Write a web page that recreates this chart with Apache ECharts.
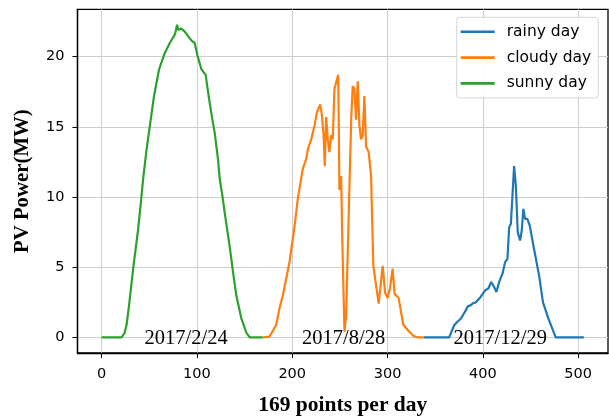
<!DOCTYPE html>
<html>
<head>
<meta charset="utf-8">
<script src="https://cdn.jsdelivr.net/npm/echarts@6/dist/echarts.min.js"></script>
<style>html,body{margin:0;padding:0;background:#fff;}#c{width:609px;height:418px;}</style>
</head>
<body>
<div id="c"></div>
<script>
const seriesNames = ['rainy day', 'cloudy day', 'sunny day'];
const xTicks = [0, 100, 200, 300, 400, 500];
const yTicks = [0, 5, 10, 15, 20];
const dateLabels = ['2017/2/24', '2017/8/28', '2017/12/29'];
const dateLabelX = [88.6, 253.9, 418.3];

const sunny = [[0,0],[21,0],[24,0.3],[26.2,0.9],[29,2.4],[33.1,4.9],[38.3,7.7],[41.9,10.1],[43.6,11.3],[47,13.3],[50.6,15.06],[55,17.2],[60.3,19.1],[66.3,20.26],[71.5,20.97],[75.7,21.44],[77,21.6],[79.2,22.27],[80.5,21.9],[82,21.8],[83.5,22.0],[85.5,22.1],[87,21.8],[89,21.7],[92.5,21.3],[95,21.1],[97.7,20.97],[100.5,20.1],[104.7,19.1],[107,18.9],[109.2,18.7],[111,17.8],[113.4,16.7],[116,15.6],[118.6,14.6],[122.1,12.7],[123.9,11.3],[126.7,10.1],[129.1,8.9],[134.3,6.5],[137.8,4.7],[141.3,3.0],[146.6,1.35],[151.8,0.35],[155.3,0],[169,0]];

const cloudy = [[169,0],[176,0.05],[180,0.5],[183.2,0.9],[186.7,2.1],[190.2,3.0],[197.2,5.4],[202.4,7.9],[205.9,9.9],[211.1,12.0],[214.6,12.7],[216.4,13.4],[219.9,14.1],[223.4,15.1],[225.8,16.0],[229.3,16.6],[231,15.9],[232.8,14.5],[234.2,12.2],[235.6,15.7],[237.3,14.1],[239,13.2],[240.8,14.4],[242.5,14.1],[244.3,17.7],[246,17.7],[248.2,18.7],[248.8,15.5],[249.5,10.5],[251.3,11.5],[252.5,7],[254.8,0.4],[256.5,1.5],[259,8],[260.5,12],[262,15.8],[263.5,17.9],[265.2,17.7],[267,15.5],[268.7,18.25],[270.5,15.1],[272.2,14.1],[273.9,14.4],[275.7,17.2],[277.5,13.6],[280.2,13.2],[282.7,11.5],[285.1,5.1],[288,3.7],[290.7,2.4],[292.5,2.5],[294.9,5.1],[297.4,3.2],[300.1,2.8],[302.6,3.5],[305.3,4.9],[307.4,3.1],[311.6,2.8],[316.5,0.9],[322.8,0.4],[327,0.12],[331.5,0],[338,0]];

const rainy = [[338,0],[364.7,0],[367,0.4],[370,0.87],[373,1.1],[377,1.35],[382.2,1.94],[384,2.2],[387.4,2.3],[390,2.45],[392.7,2.5],[397.9,2.9],[402.4,3.35],[405.9,3.5],[408.7,3.95],[411.8,3.6],[414.2,3.24],[417.1,3.95],[420.6,4.54],[423.4,5.37],[425.8,5.6],[427.6,7.85],[429.4,8.1],[432.8,12.2],[434.6,10.8],[436.6,7.5],[439.1,6.9],[440.8,7.6],[442.5,9.15],[444.3,8.44],[446.7,8.44],[449.2,7.96],[453.7,6.3],[459,4.4],[463.1,2.5],[468.7,1.35],[476.4,0],[506,0]];

const colors = ['#1f77b4', '#ff7f0e', '#2ca02c'];
const dataSets = [rainy, cloudy, sunny];

const chart = echarts.init(document.getElementById('c'), null, {renderer: 'canvas'});

const lineSeries = seriesNames.map((n, i) => ({
  name: n,
  type: 'line',
  data: dataSets[i],
  symbol: 'none',
  showSymbol: false,
  lineStyle: {color: colors[i], width: 2.2},
  itemStyle: {color: colors[i]},
  z: 2 + i
}));

const labelSeries = {
  name: 'dates',
  type: 'scatter',
  data: dateLabels.map((d, i) => ({name: d, value: [dateLabelX[i], -0.1]})),
  symbolSize: 1,
  itemStyle: {color: 'rgba(0,0,0,0)'},
  silent: true,
  z: 10,
  label: {
    show: true, position: 'inside', formatter: '{b}',
    fontFamily: 'Liberation Serif', fontSize: 20.5, color: '#000', opacity: 1
  }
};

const option = {
  animation: false,
  backgroundColor: '#fff',
  grid: {left: 77.5, right: 1, top: 9.3, bottom: 65, show: true, borderColor: '#000', borderWidth: 1.3, backgroundColor: 'transparent', outerBoundsMode: 'none', containLabel: false},
  legend: {
    data: seriesNames.map((n, i) => ({name: n, icon: 'rect', itemStyle: {color: colors[i]}})),
    orient: 'vertical',
    left: 456.7, top: 17.3,
    itemWidth: 34, itemHeight: 2.6, itemGap: 9.8,
    padding: [6.5, 7, 6.5, 4],
    borderColor: '#d5d5d5', borderWidth: 1, borderRadius: 3,
    backgroundColor: 'rgba(255,255,255,0.85)',
    textStyle: {fontFamily: 'DejaVu Sans', fontSize: 15.5, lineHeight: 14, color: '#000', padding: [0, 0, 0, 7]}
  },
  xAxis: {
    type: 'value', min: -25.3, max: 531.3,
    name: '169 points per day', nameLocation: 'middle', nameGap: 52,
    nameTextStyle: {fontFamily: 'Liberation Serif', fontWeight: 'bold', fontSize: 21.5, color: '#000', verticalAlign: 'middle'},
    axisLine: {show: true, onZero: false, lineStyle: {color: '#000', width: 1.3}},
    axisTick: {show: true, inside: false, length: 5, customValues: xTicks, lineStyle: {color: '#000', width: 1}},
    axisLabel: {customValues: xTicks, fontFamily: 'DejaVu Sans', fontSize: 14.5, color: '#000', margin: 13.5},
    splitLine: {show: true, lineStyle: {color: '#cfcfcf', width: 1}}
  },
  yAxis: {
    type: 'value', min: -1.11, max: 23.37,
    name: 'PV Power(MW)', nameLocation: 'middle', nameGap: 55,
    nameTextStyle: {fontFamily: 'Liberation Serif', fontWeight: 'bold', fontSize: 20.8, color: '#000', verticalAlign: 'middle'},
    axisLine: {show: true, onZero: false, lineStyle: {color: '#000', width: 1.3}},
    axisTick: {show: true, inside: false, length: 5, customValues: yTicks, lineStyle: {color: '#000', width: 1}},
    axisLabel: {customValues: yTicks, fontFamily: 'DejaVu Sans', fontSize: 14.5, color: '#000', margin: 13},
    splitLine: {show: true, lineStyle: {color: '#cfcfcf', width: 1}}
  },
  series: lineSeries.concat([labelSeries])
};
chart.setOption(option);
</script>
</body>
</html>
